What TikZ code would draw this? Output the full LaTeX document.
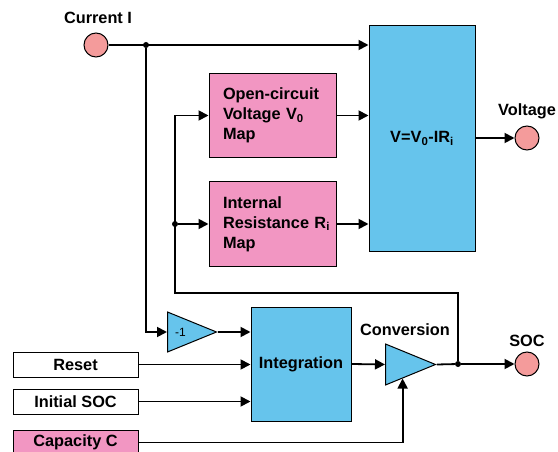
\documentclass[tikz,border=0pt]{standalone}
\usepackage{fontspec}
\setmainfont{Liberation Sans}
\usetikzlibrary{positioning,calc,arrows.meta,shapes.geometric}
\definecolor{mappink}{RGB}{242,150,194}
\definecolor{blkblue}{RGB}{102,196,236}
\definecolor{portred}{RGB}{244,155,155}
\tikzset{
  blk/.style={draw,line width=1pt,fill=blkblue,inner sep=0pt},
  mapbox/.style={draw,line width=1pt,fill=mappink,minimum width=127pt,minimum height=84pt,text width=99pt,align=left,inner sep=0pt},
  inbox/.style={draw,line width=1pt,minimum width=125pt,minimum height=25pt,inner sep=0pt},
  port/.style={circle,draw,line width=1pt,fill=portred,minimum size=24pt,inner sep=0pt},
  amp/.style={isosceles triangle,isosceles triangle stretches,draw,line width=1pt,fill=blkblue,inner sep=0pt,anchor=lower side},
  wire/.style={line width=1.8pt},
  sig/.style={wire,-{Triangle[length=10pt,width=10pt]}},
  jdot/.style={circle,fill,inner sep=0pt,minimum size=6pt}
}

\begin{document}
\begin{tikzpicture}[x=1pt,y=-1pt,font=\fontsize{16.3}{20}\selectfont\bfseries]
  \useasboundingbox (0,0) rectangle (558,452);
  \node[port] (cur) at (96,45) {};
  \node (curlbl) at (98,18) {Current I};
  \node[blk,minimum width=106pt,minimum height=225pt] (vbox) at (422,138.5) {V=V\textsubscript{0}-IR\textsubscript{i}};
  \node[port] (volt) at (527,138) {};
  \node (voltlbl) at (527,111) {Voltage};
  \node[mapbox] (ocv) at (272.5,115.5) {Open-circuit\\Voltage V\textsubscript{0}\\Map};
  \node[mapbox] (rint) at (272.5,224) {Internal\\\mbox{Resistance R\textsubscript{i}}\\Map};
  \node[blk,minimum width=100pt,minimum height=114pt] (integ) at (301,364) {Integration};
  \node[amp,minimum width=40pt,minimum height=49pt] (neg) at (167,332) {\fontsize{12}{12}\selectfont\mdseries -1};
  \node[amp,minimum width=41pt,minimum height=50pt] (conv) at (385,364.5) {};
  \node (convlbl) at (405,330) {Conversion};
  \node[port] (soc) at (527,364) {};
  \node (soclbl) at (527,341) {SOC};
  \node[inbox] (reset) at (75.5,364.5) {Reset};
  \node[inbox,below=11pt of reset] (init) {Initial SOC};
  \node[inbox,fill=mappink,below=15pt of init] (cap) {Capacity C};
  \node[jdot] (jcur) at (146,45) {};
  \node[jdot] (jsoc) at (458,364) {};
  \coordinate (fb) at (175,293);
  \node[jdot] (jint) at (fb |- rint) {};
  \draw[sig] (cur) -- (cur -| vbox.west);
  \draw[sig] (jcur) |- (neg.lower side);
  \draw[sig] (ocv.east) -- (ocv.east -| vbox.west);
  \draw[sig] (rint.east) -- (rint.east -| vbox.west);
  \draw[sig] (vbox.east |- volt) -- (volt);
  \draw[sig] (jsoc) |- (fb) |- (ocv.west);
  \draw[sig] (jint) -- (rint.west);
  \draw[sig] (neg.apex) -- (neg.apex -| integ.west);
  \draw[sig] (reset.east) -- (reset.east -| integ.west);
  \draw[sig] (init.east) -- (init.east -| integ.west);
  \draw[sig] (integ.east) -- (conv.lower side);
  \draw[wire] (conv.apex) -- (jsoc);
  \draw[sig] (jsoc) -- (soc);
  \draw[sig] (cap.east) -| ($(conv.right corner)!0.34!(conv.apex)$);
\end{tikzpicture}
\end{document}
